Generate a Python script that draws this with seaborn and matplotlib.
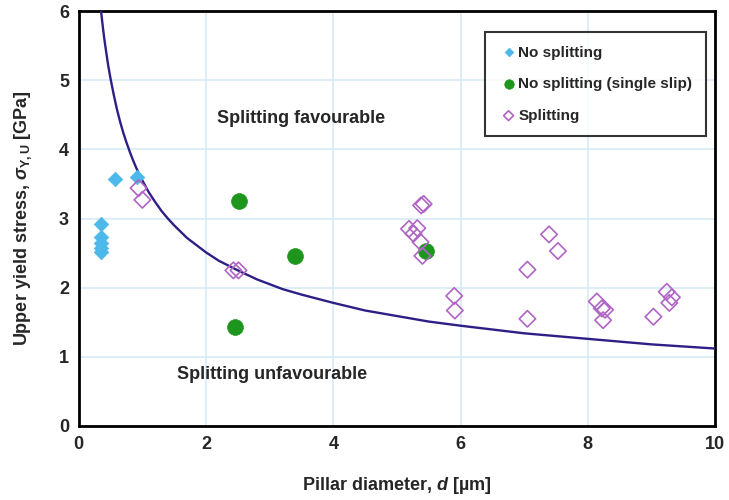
import numpy as np
import pandas as pd
import seaborn as sns
import matplotlib
matplotlib.use("Agg")
import matplotlib.pyplot as plt

# Data
nosplit_d = [0.35, 0.35, 0.35, 0.35, 0.35, 0.57, 0.92]
nosplit_s = [2.92, 2.73, 2.65, 2.58, 2.52, 3.57, 3.60]

single_d = [2.52, 3.40, 2.45, 5.45]
single_s = [3.25, 2.46, 1.43, 2.53]

split_d = [0.94, 1.00, 2.43, 2.51, 5.38, 5.42, 5.19, 5.32, 5.26, 5.37, 5.40,
           7.39, 7.53, 7.05, 5.90, 5.91, 7.05, 8.14, 8.22, 8.27, 8.24,
           9.03, 9.24, 9.32, 9.28]
split_s = [3.44, 3.27, 2.25, 2.25, 3.19, 3.21, 2.85, 2.86, 2.78, 2.66, 2.46,
           2.77, 2.53, 2.26, 1.88, 1.67, 1.55, 1.80, 1.70, 1.68, 1.53,
           1.58, 1.94, 1.86, 1.78]

# boundary curve read along its length
curve_d = [0.35, 0.36, 0.38, 0.40, 0.42, 0.46, 0.5, 0.55, 0.6, 0.65, 0.7,
           0.75, 0.8, 0.85, 0.9, 0.95, 1.0, 1.1, 1.2, 1.3, 1.4, 1.5, 1.6,
           1.7, 1.8, 2.0, 2.2, 2.5, 2.8, 3.0, 3.2, 3.5, 4.0, 4.5, 5.0, 5.5,
           6.0, 7.0, 8.0, 9.0, 10.0]
curve_s = [6.00, 5.92, 5.76, 5.61, 5.48, 5.23, 5.02, 4.79, 4.58, 4.40, 4.24,
           4.10, 3.97, 3.85, 3.74, 3.64, 3.55, 3.38, 3.24, 3.11, 3.00, 2.90,
           2.81, 2.72, 2.65, 2.51, 2.39, 2.25, 2.12, 2.05, 1.98, 1.90, 1.78,
           1.67, 1.59, 1.51, 1.45, 1.34, 1.26, 1.18, 1.12]

blue = "#4db8ea"
green = "#1e961e"
purple = "#b065c4"
navy = "#2e1f86"

sns.set_style("white")
plt.rcParams["font.family"] = ["Liberation Sans", "DejaVu Sans"]
plt.rcParams["font.weight"] = "bold"
plt.rcParams["mathtext.fontset"] = "custom"
plt.rcParams["mathtext.rm"] = "Liberation Sans:bold"
plt.rcParams["mathtext.it"] = "Liberation Sans:italic:bold"

fig = plt.figure(figsize=(7.29, 5.0), dpi=100)
ax = fig.add_axes([0.108, 0.148, 0.873, 0.830])

curve = pd.DataFrame({"d": curve_d, "s": curve_s})
sns.lineplot(data=curve, x="d", y="s", ax=ax, color=navy, lw=1.7,
             sort=False, zorder=3, legend=False,
             solid_joinstyle="round", solid_capstyle="round")

sns.scatterplot(x=nosplit_d, y=nosplit_s, ax=ax, marker="D", s=55,
                color=blue, edgecolor=blue, linewidth=0.5,
                label="No splitting", zorder=4)
sns.scatterplot(x=single_d, y=single_s, ax=ax, marker="o", s=130,
                color=green, edgecolor=green, linewidth=0.5,
                label="No splitting (single slip)", zorder=4)
ax.scatter(split_d, split_s, marker="D", s=70, facecolors="none",
           edgecolors=purple, linewidths=1.2, label="Splitting", zorder=4)

ax.set_xlim(0, 10)
ax.set_ylim(0, 6)
ax.set_xticks(range(0, 11, 2))
ax.set_yticks(range(0, 7))
ax.grid(True, color="#d4e9f4", lw=1.1)
ax.set_axisbelow(True)
for sp in ax.spines.values():
    sp.set_color("black")
    sp.set_linewidth(2)
ax.tick_params(direction="in", length=5, width=2, labelsize=13, pad=7)
for lab in ax.get_xticklabels() + ax.get_yticklabels():
    lab.set_fontweight("bold")

ax.set_xlabel(r"Pillar diameter, $d$ [µm]", fontsize=13, fontweight="bold",
              labelpad=16)
ax.set_ylabel(r"Upper yield stress, $\sigma_{\mathrm{Y,U}}$ [GPa]",
              fontsize=13, fontweight="bold", labelpad=18)

ax.text(3.5, 4.45, "Splitting favourable", fontsize=13, fontweight="bold",
        ha="center", va="center")
ax.text(3.03, 0.74, "Splitting unfavourable", fontsize=13, fontweight="bold",
        ha="center", va="center")

leg = ax.legend(loc="upper right", bbox_to_anchor=(0.986, 0.95),
                frameon=True, fancybox=False,
                prop={"weight": "bold", "size": 11},
                handletextpad=0.0, borderpad=0.9, labelspacing=1.15,
                markerscale=0.6, handlelength=1.3, borderaxespad=0)
leg.get_frame().set_edgecolor("black")
leg.get_frame().set_linewidth(1.5)

fig.savefig("out.png", dpi=100)
